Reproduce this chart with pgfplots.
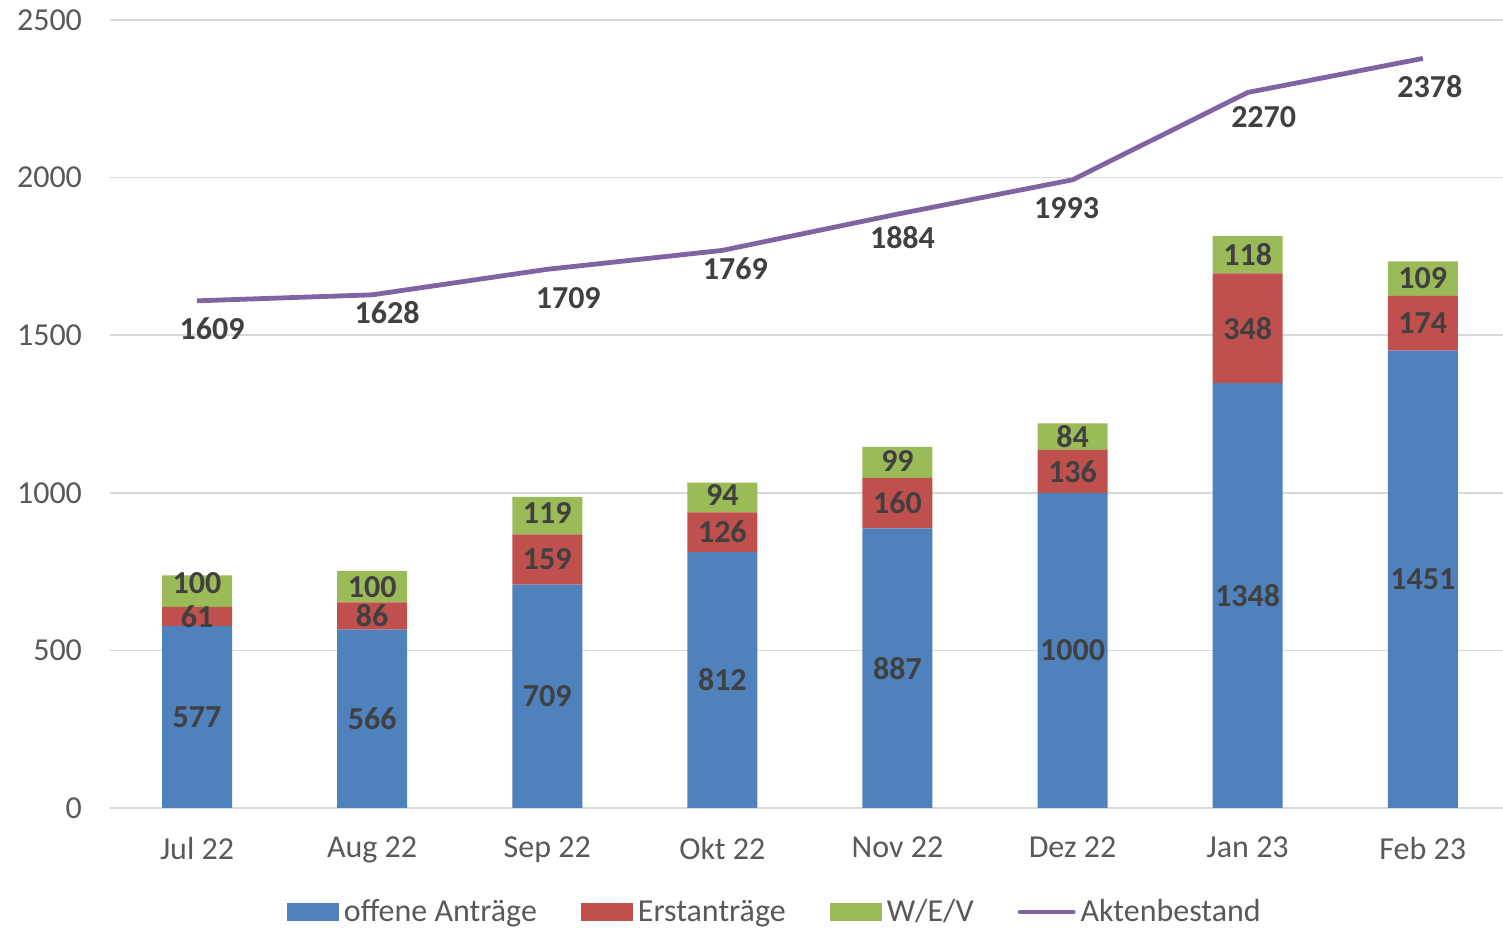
\documentclass[border=0pt]{standalone}
\usepackage{pgfplots}
\pgfplotsset{compat=1.18}
\usepackage{pgfplotstable}
\usepackage{fontspec}
\setmainfont{Carlito}
\definecolor{cblue}{HTML}{4F81BD}
\definecolor{cred}{HTML}{C0504D}
\definecolor{cgreen}{HTML}{9BBB59}
\definecolor{cpurple}{HTML}{8064A2}
\definecolor{tickgray}{HTML}{595959}
\definecolor{labgray}{HTML}{404040}
\definecolor{gridgray}{HTML}{D9D9D9}

\pgfplotstableread{
x offen erst wev akten lx ly gy
0 577 61 100 1609 7.5 -14 4
1 566 86 100 1628 7.5 -9 0
2 709 159 119 1709 10.5 -14.5 1.5
3 812 126 94 1769 6.5 -9 1.5
4 887 160 99 1884 2.5 -11.5 0.5
5 1000 136 84 1993 -3 -14 0
6 1348 348 118 2270 8 -12.5 0
7 1451 174 109 2378 3.5 -14.25 0
}\datatable

\begin{document}
\begin{tikzpicture}
\begin{axis}[
  name=ax,
  scale only axis, width=696.5pt, height=394pt,
  xmin=-0.497, xmax=7.458, ymin=0, ymax=2500,
  ybar stacked, bar width=35pt,
  xtick={0,1,2,3,4,5,6,7},
  xticklabels={Jul 22, Aug 22, Sep 22, Okt 22, Nov 22, Dez 22, Jan 23, Feb 23},
  ytick={0,500,1000,1500,2000,2500},
  axis line style={draw=none},
  tick style={draw=none},
  major tick length=0pt,
  ymajorgrids, grid style={draw=gridgray, line width=0.75pt},
  tick label style={font=\fontsize{16}{19}\selectfont, text=tickgray},
  /pgf/number format/assume math mode=true,
  /pgf/number format/1000 sep={},
  yticklabel style={xshift=-10.5pt},
  xticklabel style={yshift=-11pt},
  nodes near coords,
  point meta=explicit,
  every node near coord/.append style={font=\bfseries\fontsize{16}{19}\selectfont, text=labgray, anchor=center, inner sep=0pt},
  legend style={at={(0.478,-0.132)}, anchor=center, draw=none, fill=none,
    legend columns=4, font=\fontsize{16}{19}\selectfont, text=tickgray,
    /tikz/every even column/.append style={column sep=20pt},
    /tikz/every odd column/.append style={column sep=0.5pt}},
  legend cell align=left,
]
\addplot[fill=cblue, draw=none, legend image code/.code={\fill[cblue] (0pt,-4.5pt) rectangle (26pt,4.5pt);}] table[x=x, y=offen, meta=offen] {\datatable};
\addplot[fill=cred, draw=none, legend image code/.code={\fill[cred] (0pt,-4.5pt) rectangle (26pt,4.5pt);}] table[x=x, y=erst, meta=erst] {\datatable};
\addplot[fill=cgreen, draw=none,
  visualization depends on={\thisrow{gy} \as \gy},
  every node near coord/.append style={yshift=\gy pt},
  legend image code/.code={\fill[cgreen] (0pt,-4.5pt) rectangle (26pt,4.5pt);}] table[x=x, y=wev, meta=wev] {\datatable};
\addlegendimage{legend image code/.code={\draw[cpurple, line width=2.4pt, line cap=round] (1pt,0pt) -- (27.5pt,0pt);}}
\legend{offene Anträge, Erstanträge, W/E/V, Aktenbestand}
\end{axis}
\begin{axis}[
  scale only axis, width=696.5pt, height=394pt,
  xmin=-0.497, xmax=7.458, ymin=0, ymax=2500,
  hide axis, clip=false,
]
\addplot[cpurple, line width=2.4pt, line join=round, mark=none,
  nodes near coords, point meta=explicit,
  /pgf/number format/assume math mode=true,
  /pgf/number format/1000 sep={},
  visualization depends on={\thisrow{lx} \as \lx},
  visualization depends on={\thisrow{ly} \as \ly},
  every node near coord/.append style={font=\bfseries\fontsize{16}{19}\selectfont, text=labgray, anchor=center, inner sep=0pt, xshift=\lx pt, yshift=\ly pt}]
  table[x=x, y=akten, meta=akten] {\datatable};
\end{axis}
\pgfresetboundingbox
\path[use as bounding box] ([xshift=-55pt,yshift=-60pt]ax.south west) rectangle ([yshift=10pt]ax.north east);
\end{tikzpicture}
\end{document}
